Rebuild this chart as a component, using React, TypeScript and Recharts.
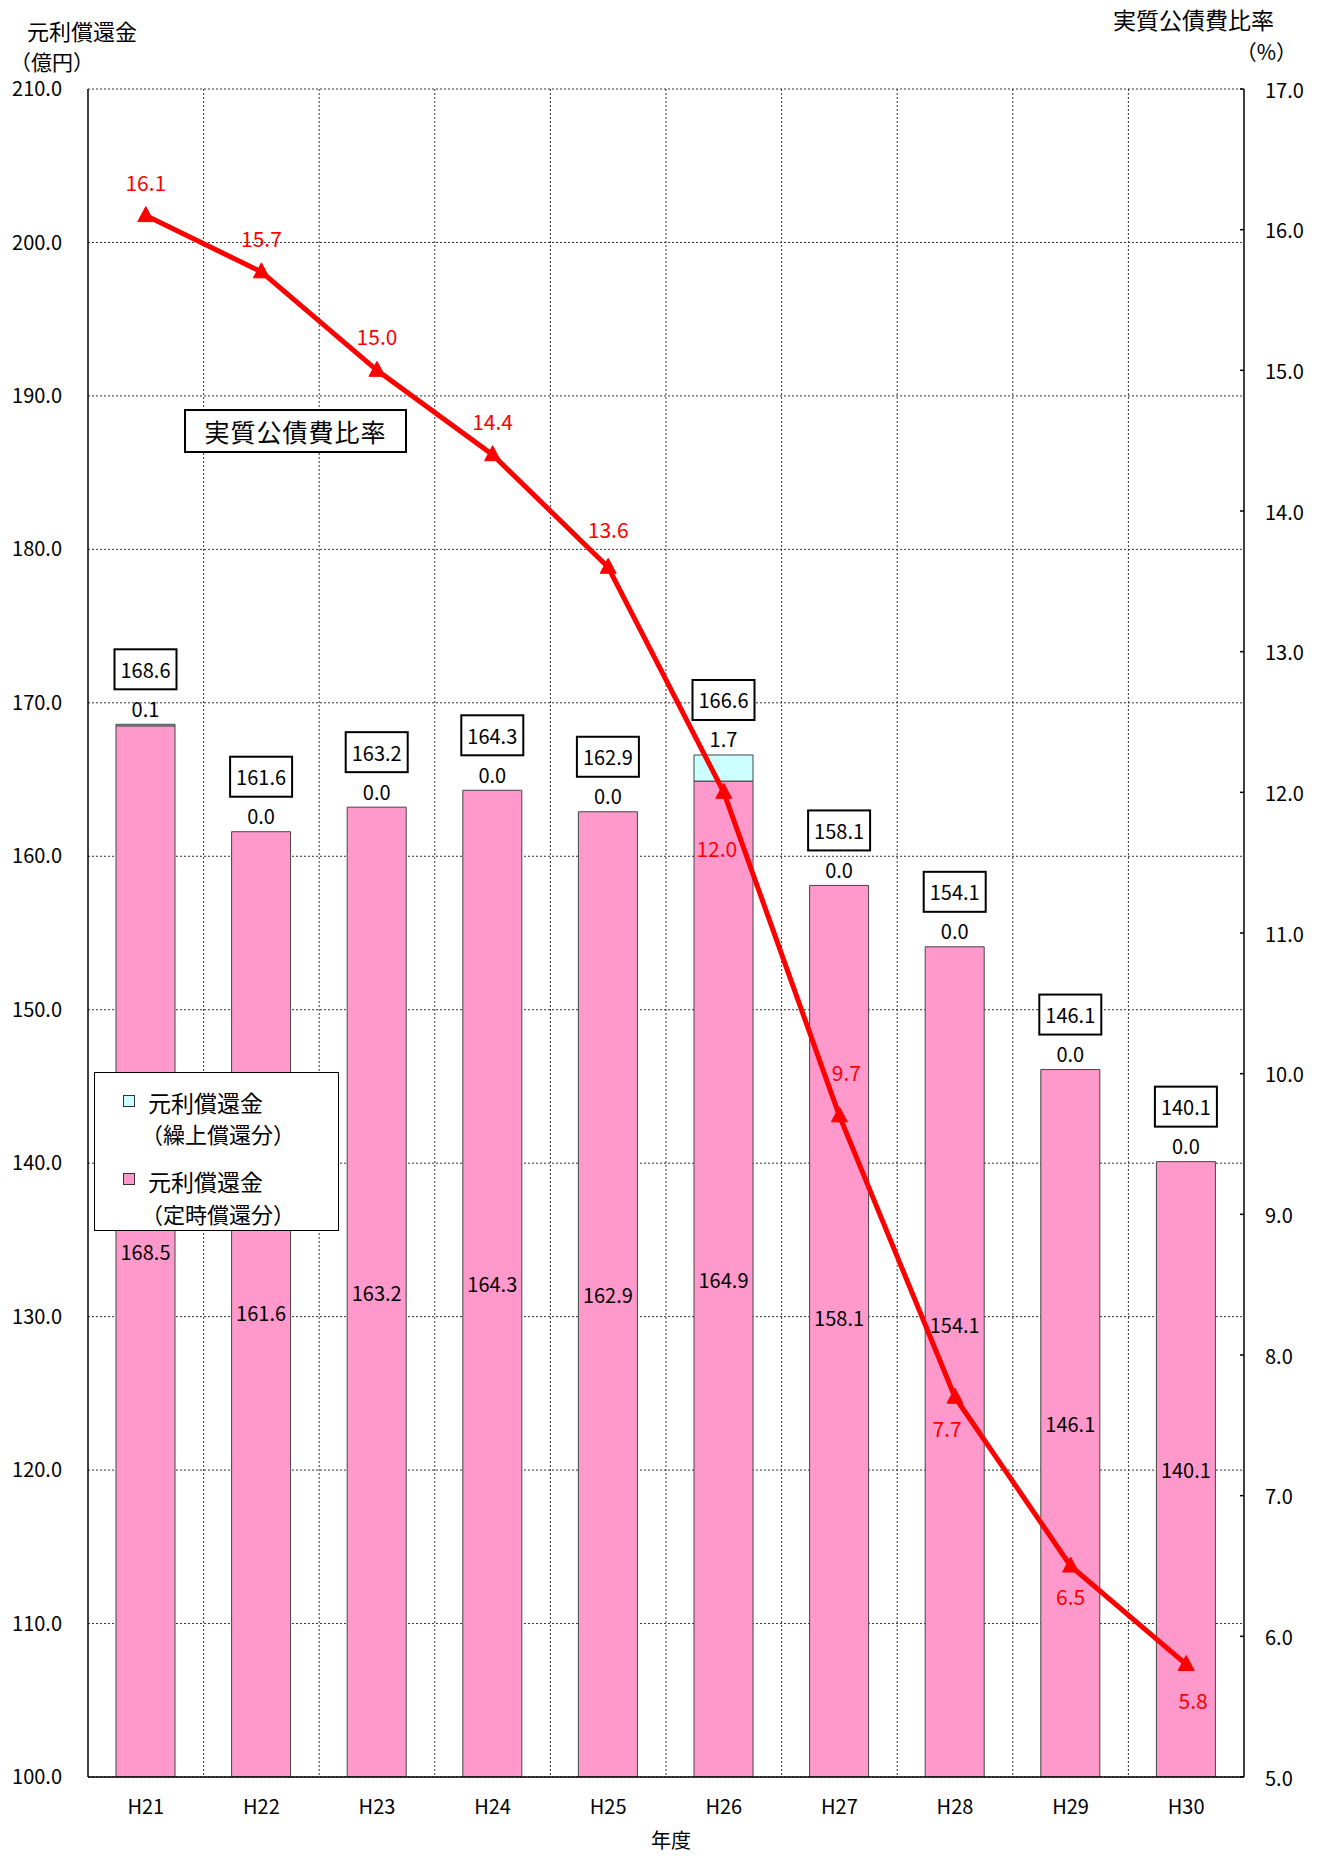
import React from 'react';
import {
  ComposedChart,
  Bar,
  Line,
  XAxis,
  YAxis,
  CartesianGrid,
  LabelList,
} from 'recharts';

const YEARS = ['H21', 'H22', 'H23', 'H24', 'H25', 'H26', 'H27', 'H28', 'H29', 'H30'];
// 元利償還金（定時償還分）
const SCHEDULED = [168.5, 161.6, 163.2, 164.3, 162.9, 164.9, 158.1, 154.1, 146.1, 140.1];
// 元利償還金（繰上償還分）
const EARLY = [0.1, 0.0, 0.0, 0.0, 0.0, 1.7, 0.0, 0.0, 0.0, 0.0];
const TOTALS = [168.6, 161.6, 163.2, 164.3, 162.9, 166.6, 158.1, 154.1, 146.1, 140.1];
// 実質公債費比率 (%)
const RATIO = [16.1, 15.7, 15.0, 14.4, 13.6, 12.0, 9.7, 7.7, 6.5, 5.8];

const LEFT_TICKS = [100, 110, 120, 130, 140, 150, 160, 170, 180, 190, 200, 210];
const RIGHT_TICKS = [5, 6, 7, 8, 9, 10, 11, 12, 13, 14, 15, 16, 17];
const LEFT_MIN = 100;

const FONT = '"Noto Sans CJK JP", "Noto Sans", sans-serif';
const PINK = '#FF99CC';
const CYAN = '#CCFFFF';
const RED = '#FF0000';

const data = YEARS.map((year, i) => ({
  year,
  scheduled: SCHEDULED[i],
  early: EARLY[i],
  total: TOTALS[i],
  ratio: RATIO[i],
}));

// label offsets for the ratio line (dx, dy from the point)
const ratioLabelShift = (i: number) => {
  if (i === 4) return { dx: 0, dy: -38 };
  if (i === 5) return { dx: -7, dy: 56 };
  if (i === 6) return { dx: 7, dy: -44 };
  if (i === 7) return { dx: -8, dy: 31 };
  if (i === 8) return { dx: 0, dy: 30 };
  if (i === 9) return { dx: 7, dy: 36 };
  return { dx: 0, dy: -34 };
};

// a few in-bar labels were nudged in the original
const midLabelShift = (i: number) => {
  if (i === 1) return 8;
  if (i === 6) return -14;
  if (i === 7) return -37;
  return 0;
};

const pick = (props: any) => {
  const vb = props.viewBox || {};
  return {
    x: props.x ?? vb.x,
    y: props.y ?? vb.y,
    width: props.width ?? vb.width ?? 0,
    height: props.height ?? vb.height ?? 0,
  };
};

// drawn on the pink bar; the stacked top is found from the bar's own px-per-unit
const BarLabels = (props: any) => {
  const { x, y, width, height } = pick(props);
  const i = props.index;
  const ppu = height / (SCHEDULED[i] - LEFT_MIN);
  const top = y - EARLY[i] * ppu;
  const cx = x + width / 2;
  return (
    <g key={`lbl-${i}`}>
      <text
        x={cx}
        y={y + height / 2 + midLabelShift(i)}
        textAnchor="middle"
        dominantBaseline="central"
        fontSize={20}
        fill="#000"
      >
        {SCHEDULED[i].toFixed(1)}
      </text>
      <rect x={cx - 31} y={top - 75} width={62} height={40} fill="#fff" stroke="#000" strokeWidth={2} />
      <text x={cx} y={top - 55} textAnchor="middle" dominantBaseline="central" fontSize={20} fill="#000">
        {TOTALS[i].toFixed(1)}
      </text>
      <text x={cx} y={top - 16} textAnchor="middle" dominantBaseline="central" fontSize={20} fill="#000">
        {EARLY[i].toFixed(1)}
      </text>
    </g>
  );
};

const RatioLabel = (props: any) => {
  const { x, y } = pick(props);
  const { dx, dy } = ratioLabelShift(props.index);
  return (
    <text x={x + dx} y={y + dy} textAnchor="middle" dominantBaseline="central" fontSize={21} fill={RED}>
      {Number(props.value).toFixed(1)}
    </text>
  );
};

const Triangle = (props: any) => {
  const { cx, cy, index } = props;
  return (
    <polygon
      key={`tri-${index}`}
      points={`${cx},${cy - 9} ${cx - 8},${cy + 6} ${cx + 8},${cy + 6}`}
      fill={RED}
      stroke={RED}
    />
  );
};

const RightTick = (props: any) => {
  const { x, y, payload } = props;
  return (
    <g>
      <line x1={x - 25} x2={x - 21} y1={y} y2={y} stroke="#000" strokeWidth={1.5} />
      <text x={x} y={y} dominantBaseline="central" fontSize={20} fill="#000">
        {Number(payload.value).toFixed(1)}
      </text>
    </g>
  );
};

const boundaries = ({ offset }: any) => {
  const n = YEARS.length;
  const pts: number[] = [];
  for (let i = 1; i < n; i++) pts.push(offset.left + (offset.width * i) / n);
  return pts;
};

const abs = (left: number, top: number, fontSize: number, extra: React.CSSProperties = {}): React.CSSProperties => ({
  position: 'absolute',
  left,
  top,
  fontSize,
  lineHeight: 1,
  whiteSpace: 'nowrap',
  color: '#000',
  ...extra,
});

export default function App() {
  return (
    <div style={{ position: 'absolute', left: 0, top: 0, width: 1323, height: 1856, fontFamily: FONT, background: '#fff' }}>
      <ComposedChart
        width={1323}
        height={1856}
        data={data}
        margin={{ top: 89, right: 0, bottom: 0, left: 0 }}
        style={{ fontFamily: FONT }}
      >
        <CartesianGrid
          yAxisId="left"
          stroke="#333"
          strokeDasharray="2 2"
          verticalCoordinatesGenerator={boundaries}
        />
        <XAxis
          dataKey="year"
          height={79}
          tickLine={false}
          tickSize={0}
          tickMargin={23}
          axisLine={{ stroke: '#000', strokeWidth: 1.5 }}
          tick={{ fill: '#000', fontSize: 20 }}
          interval={0}
        />
        <YAxis
          yAxisId="left"
          width={88}
          domain={[LEFT_MIN, 210]}
          ticks={LEFT_TICKS}
          allowDataOverflow
          tickLine={false}
          tickSize={6}
          tickMargin={20}
          axisLine={{ stroke: '#000', strokeWidth: 1.5 }}
          tick={{ fill: '#000', fontSize: 20 }}
          tickFormatter={(v: number) => v.toFixed(1)}
        />
        <YAxis
          yAxisId="right"
          orientation="right"
          width={79}
          domain={[5, 17]}
          ticks={RIGHT_TICKS}
          tickLine={false}
          tickSize={0}
          tickMargin={21}
          axisLine={{ stroke: '#000', strokeWidth: 1.5 }}
          tick={<RightTick />}
        />
        <Bar
          yAxisId="left"
          dataKey="scheduled"
          stackId="a"
          barSize={59}
          fill={PINK}
          stroke="#444"
          strokeWidth={1}
          isAnimationActive={false}
        >
          <LabelList dataKey="scheduled" content={<BarLabels />} />
        </Bar>
        <Bar
          yAxisId="left"
          dataKey="early"
          stackId="a"
          barSize={59}
          fill={CYAN}
          stroke="#444"
          strokeWidth={1}
          isAnimationActive={false}
        />
        <Line
          yAxisId="right"
          dataKey="ratio"
          stroke={RED}
          strokeWidth={5}
          dot={Triangle}
          activeDot={false}
          isAnimationActive={false}
        >
          <LabelList dataKey="ratio" content={<RatioLabel />} />
        </Line>
      </ComposedChart>

      {/* axis titles */}
      <div style={abs(27, 19, 22)}>元利償還金</div>
      <div style={abs(10, 51, 21)}>（億円）</div>
      <div style={abs(1113, 8, 23)}>実質公債費比率</div>
      <div style={abs(1297, 41, 21, { transform: 'translateX(-100%)' })}>（%）</div>
      <div style={abs(651, 1830, 20)}>年度</div>

      {/* line caption */}
      <div
        style={abs(184, 409, 25, {
          width: 223,
          height: 44,
          boxSizing: 'border-box',
          border: '2px solid #000',
          background: '#fff',
          display: 'flex',
          alignItems: 'center',
          justifyContent: 'center',
          letterSpacing: 1,
        })}
      >
        実質公債費比率
      </div>

      {/* legend */}
      <div
        style={{
          position: 'absolute',
          left: 94,
          top: 1072,
          width: 245,
          height: 159,
          boxSizing: 'border-box',
          border: '1px solid #000',
          background: '#fff',
        }}
      >
        <div style={{ position: 'absolute', left: 28, top: 22, width: 10, height: 10, background: CYAN, border: '1px solid #333' }} />
        <div style={abs(53, 18, 23)}>元利償還金</div>
        <div style={abs(46, 49, 22)}>（繰上償還分）</div>
        <div style={{ position: 'absolute', left: 28, top: 100, width: 10, height: 10, background: PINK, border: '1px solid #333' }} />
        <div style={abs(53, 97, 23)}>元利償還金</div>
        <div style={abs(46, 129, 22)}>（定時償還分）</div>
      </div>
    </div>
  );
}
